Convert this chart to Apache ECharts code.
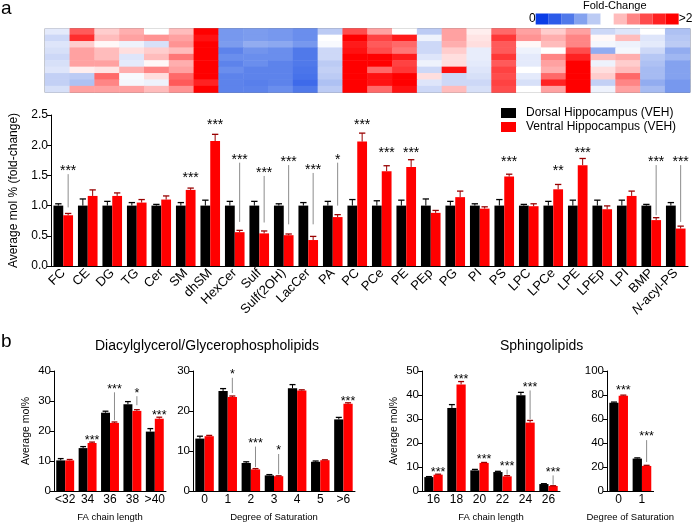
<!DOCTYPE html>
<html><head><meta charset="utf-8">
<script src="https://cdn.jsdelivr.net/npm/echarts@6/dist/echarts.min.js"></script>
<style>html,body{margin:0;padding:0;background:#fff}#c{width:698px;height:524px}</style>
</head><body><div id="c"></div>
<script>
// ---------- DATA ----------
const lipidClasses = ['FC','CE','DG','TG','Cer','SM','dhSM','HexCer','Sulf','Sulf(2OH)','LacCer','PA','PC','PCe','PE','PEp','PG','PI','PS','LPC','LPCe','LPE','LPEp','LPI','BMP','N-acyl-PS'];
const heatmapRowNames = ['1','2','3','4','5','6','7','8','9','10'];
const heatmapRows = [
 [0.92,1.55,1.15,1.25,1.0,1.2,2.2,0.55,0.57,0.55,0.5,0.8,1.6,1.3,1.0,0.8,1.3,1.05,1.5,1.3,1.15,1.3,0.85,0.9,1.0,0.75],
 [0.85,1.75,1.2,1.3,1.35,1.3,1.9,0.55,0.57,0.55,0.5,1.0,2.0,1.65,1.85,0.95,1.3,1.08,1.7,1.35,1.25,1.4,1.02,1.2,0.9,0.78],
 [0.9,1.15,1.02,0.95,0.88,1.35,2.1,0.57,0.65,0.63,0.55,0.98,1.85,1.55,1.5,0.85,1.25,1.1,1.55,1.02,1.2,1.4,0.97,0.95,0.92,0.8],
 [0.88,1.3,1.2,1.1,1.15,1.2,2.2,0.45,0.53,0.5,0.4,0.85,1.9,1.6,1.45,0.85,1.15,0.93,1.55,0.95,1.0,1.6,0.65,0.97,0.85,0.65],
 [0.85,1.3,1.2,0.9,1.2,1.45,2.2,0.5,0.5,0.5,0.4,0.85,2.1,2.0,1.85,0.9,1.1,0.93,1.7,0.92,1.4,1.8,1.2,1.25,0.78,0.7],
 [0.88,1.3,1.3,0.92,1.02,1.25,2.2,0.45,0.5,0.45,0.4,0.8,2.2,2.0,1.65,0.95,1.1,0.92,1.55,0.92,1.3,2.1,0.95,1.15,0.75,0.6],
 [0.9,1.05,1.08,1.25,1.4,1.3,2.2,0.5,0.45,0.45,0.37,0.82,2.2,1.5,1.7,0.85,1.9,0.9,1.65,1.0,1.25,2.1,1.1,1.2,0.72,0.6],
 [0.82,0.8,1.5,0.98,1.1,1.5,2.1,0.45,0.45,0.45,0.35,0.8,2.2,1.9,2.0,1.1,0.85,0.88,1.6,0.92,1.5,2.0,1.15,1.5,0.72,0.6],
 [0.82,0.75,1.4,0.97,0.95,1.55,1.8,0.45,0.43,0.45,0.3,0.75,2.2,1.9,2.0,0.9,0.85,0.85,1.65,0.88,1.8,2.1,0.82,1.4,0.65,0.55],
 [0.88,1.3,1.3,1.3,1.2,1.35,2.3,0.45,0.45,0.5,0.4,0.8,2.2,1.5,1.9,0.85,1.2,0.88,1.6,1.0,1.3,2.1,0.95,1.3,0.72,0.55]
];
const foldColors = ['#0a3de6','#2c5be9','#5079ea','#84a2ef','#bccbf4','#ffffff','#ffbcbc','#ff8585','#ff4c4c','#ff2222','#ff0000'];

const dorsalFold    = [1,1,1,1,1,1,1,1,1,1,1,1,1,1,1,1,1,1,1,1,1,1,1,1,1,1];
const dorsalFoldErr = [0.03,0.11,0.07,0.05,0.02,0.05,0.09,0.07,0.07,0.03,0.05,0.07,0.10,0.08,0.09,0.11,0.07,0.03,0.10,0.02,0.07,0.09,0.09,0.09,0.02,0.05];
const ventralFold    = [0.84,1.16,1.16,1.05,1.10,1.26,2.07,0.56,0.54,0.51,0.43,0.81,2.06,1.57,1.64,0.88,1.14,0.95,1.48,0.99,1.27,1.67,0.94,1.16,0.76,0.62];
const ventralFoldErr = [0.03,0.10,0.05,0.05,0.06,0.03,0.11,0.03,0.04,0.02,0.06,0.04,0.14,0.09,0.12,0.04,0.10,0.03,0.04,0.04,0.08,0.11,0.055,0.08,0.04,0.04];
// [category, stars, star level, line down to]
const sigFold = [
 ['FC','***',1.62,0.97],['SM','***',1.50,null],['dhSM','***',2.38,null],['HexCer','***',1.81,0.73],
 ['Sulf','***',1.59,0.72],['Sulf(2OH)','***',1.77,0.69],['LacCer','***',1.64,0.69],['PA','*',1.81,1.0],
 ['PC','***',2.38,null],['PCe','***',1.93,null],['PE','***',1.93,null],['PS','***',1.77,null],
 ['LPCe','**',1.63,null],['LPE','***',1.93,null],['BMP','***',1.77,0.84],['N-acyl-PS','***',1.77,0.73]
];

const gplChain = ['<32','34','36','38','>40'];
const gplChainDorsal = [10.2,14.3,26.1,28.9,19.8];
const gplChainDorsalErr = [0.6,0.5,0.5,0.9,1.0];
const gplChainVentral = [10.2,16.0,22.7,26.7,24.1];
const gplChainVentralErr = [0.3,0.3,0.3,0.4,0.5];
const sigGplChain = [['34','***',17.7,null],['36','***',34.9,23.6],['38','*',33.6,28.6],['>40','***',26.0,null]];

const gplSat = ['0','1','2','3','4','5','>6'];
const gplSatDorsal = [13.1,25.0,7.0,3.9,25.7,7.3,17.9];
const gplSatDorsalErr = [0.6,0.6,0.3,0.2,0.9,0.2,0.5];
const gplSatVentral = [13.7,23.5,5.4,3.7,25.1,7.7,21.8];
const gplSatVentralErr = [0.2,0.25,0.2,0.1,0.2,0.1,0.25];
const sigGplSat = [['1','*',29.8,24.5],['2','***',12.6,6.0],['3','*',10.75,4.2],['>6','***',23.2,null]];

const spChain = ['16','18','20','22','24','26'];
const spChainDorsal = [5.8,34.6,8.6,7.9,39.9,2.9];
const spChainDorsalErr = [0.2,1.4,0.4,0.3,1.2,0.15];
const spChainVentral = [6.8,44.4,11.7,6.1,28.5,2.1];
const spChainVentralErr = [0.2,1.2,0.2,0.3,0.9,0.1];
const sigSpChain = [['16','***',8.9,null],['18','***',47.6,null],['20','***',14.2,null],['22','***',11.4,6.8],['24','***',44.4,29.9],['26','***',9.0,2.6]];

const spSat = ['0','1'];
const spSatDorsal = [73.5,27.0];
const spSatDorsalErr = [0.6,0.6];
const spSatVentral = [79.4,20.9];
const spSatVentralErr = [0.5,0.5];
const sigSpSat = [['0','***',86.4,null],['1','***',47.4,24.2]];

// ---------- CHART ----------
const FONT = '"Liberation Sans", Arial, Helvetica, sans-serif';
const BLACK = '#000000', RED = '#ff0000', RED_ERR = '#990000';
const chart = echarts.init(document.getElementById('c'));

const heatData = [];
heatmapRows.forEach((row, r) => row.forEach((v, c) => heatData.push([c, r, v])));

function errSeries(ax, values, errs, side, color) {
  return {
    type: 'custom', xAxisIndex: ax, yAxisIndex: ax, silent: true, z: 4,
    encode: {x: 0, y: 1},
    data: values.map((v, i) => [i, v, errs[i]]),
    renderItem: function (params, api) {
      const i = api.value(0), v = api.value(1), e = api.value(2);
      const band = api.size([1, 0])[0];
      const base = api.coord([i, v]);
      const x = base[0] + side * band * 0.2;
      const yt = api.coord([i, v + e])[1];
      const hw = band * 0.13;
      return {type: 'group', children: [
        {type: 'line', shape: {x1: x, y1: base[1], x2: x, y2: yt}, style: {stroke: color, lineWidth: 1}},
        {type: 'line', shape: {x1: x - hw, y1: yt, x2: x + hw, y2: yt}, style: {stroke: color, lineWidth: 1.3}}
      ]};
    }
  };
}
function sigSeries(ax, cats, sig, fs) {
  return {
    type: 'custom', xAxisIndex: ax, yAxisIndex: ax, silent: true, z: 5,
    encode: {x: 0, y: 1},
    data: sig.map(s => [cats.indexOf(s[0]), s[2]]),
    renderItem: function (params, api) {
      const s = sig[params.dataIndex];
      const i = api.value(0);
      const band = api.size([1, 0])[0];
      const p = api.coord([i, s[2]]);
      const x = p[0] + band * 0.2;
      const ch = [{type: 'text', style: {text: s[1], x: x, y: p[1] + fs * 0.23, fill: '#000', fontSize: fs, fontFamily: FONT, align: 'center', verticalAlign: 'middle'}}];
      if (s[3] != null) {
        const yb = api.coord([i, s[3]])[1];
        ch.push({type: 'line', shape: {x1: x, y1: p[1] + 6, x2: x, y2: yb}, style: {stroke: '#8c8c8c', lineWidth: 1}});
      }
      return {type: 'group', children: ch};
    }
  };
}
function barPair(ax, d, dE, v, vE, sig, cats, fs) {
  return [
    {type: 'bar', name: 'Dorsal Hippocampus (VEH)', xAxisIndex: ax, yAxisIndex: ax, data: d, barGap: '0%', barCategoryGap: '20%', itemStyle: {color: BLACK}, silent: true},
    {type: 'bar', name: 'Ventral Hippocampus (VEH)', xAxisIndex: ax, yAxisIndex: ax, data: v, barGap: '0%', barCategoryGap: '20%', itemStyle: {color: RED}, silent: true},
    errSeries(ax, d, dE, -1, BLACK),
    errSeries(ax, v, vE, 1, RED_ERR),
    sigSeries(ax, cats, sig, fs)
  ];
}
function catAxis(g, cats, fs, extra) {
  return Object.assign({
    type: 'category', gridIndex: g, data: cats,
    axisLine: {lineStyle: {color: '#000', width: 1}},
    axisTick: {alignWithLabel: true, length: 4, lineStyle: {color: '#000'}},
    axisLabel: {color: '#000', fontSize: fs, interval: 0, margin: 3, fontFamily: FONT}
  }, extra || {});
}
function valAxis(g, max, interval, fs, fmt, extra) {
  return Object.assign({
    type: 'value', gridIndex: g, min: 0, max: max, interval: interval,
    axisLine: {show: true, lineStyle: {color: '#000', width: 1}},
    axisTick: {show: true, length: 4, lineStyle: {color: '#000'}},
    splitLine: {show: false},
    axisLabel: {color: '#000', fontSize: fs, margin: 3, fontFamily: FONT, formatter: fmt}
  }, extra || {});
}
const nameStyle = (fs) => ({color: '#000', fontSize: fs, fontFamily: FONT});

const option = {
  animation: false,
  backgroundColor: '#fff',
  textStyle: {fontFamily: FONT},
  title: [
    {text: 'a', left: 1, top: -1, padding: 0, textStyle: {fontSize: 19, fontWeight: 'normal', color: '#000', fontFamily: FONT}},
    {text: 'b', left: 1, top: 332, padding: 0, textStyle: {fontSize: 19, fontWeight: 'normal', color: '#000', fontFamily: FONT}},
    {text: 'Fold-Change', left: 583, top: 0, padding: 0, textStyle: {fontSize: 11, fontWeight: 'normal', color: '#000', fontFamily: FONT}},
    {text: 'Diacylglycerol/Glycerophospholipids', left: 95, top: 339, padding: 0, textStyle: {fontSize: 14, fontWeight: 'normal', color: '#000', fontFamily: FONT}},
    {text: 'Sphingolipids', left: 500, top: 339, padding: 0, textStyle: {fontSize: 14, fontWeight: 'normal', color: '#000', fontFamily: FONT}}
  ],
  legend: {
    orient: 'vertical', left: 501, top: 107, padding: 0, itemGap: 2,
    itemWidth: 15, itemHeight: 10, icon: 'rect',
    selectedMode: false,
    textStyle: {fontSize: 12, color: '#000', fontFamily: FONT, padding: [0, 0, 0, 5]},
    data: [{name: 'Dorsal Hippocampus (VEH)', itemStyle: {color: BLACK}}, {name: 'Ventral Hippocampus (VEH)', itemStyle: {color: RED}}]
  },
  visualMap: [
    {type: 'continuous', show: false, seriesIndex: 0, min: 0, max: 2, inRange: {color: foldColors}},
    {type: 'piecewise', show: true, seriesIndex: 1, orient: 'horizontal', left: 529, top: 13, padding: 0,
     itemWidth: 13, itemHeight: 11, itemGap: 0, itemSymbol: 'rect', text: ['>2', '0'], textGap: 4,
     selectedMode: false, hoverLink: false,
     textStyle: {fontSize: 12, color: '#000', fontFamily: FONT},
     pieces: foldColors.map((c, k) => ({min: k * 2 / 11, max: (k + 1) * 2 / 11, color: c}))}
  ],
  grid: [
    {left: 45, top: 28.5, width: 645, height: 64, show: true, borderColor: '#808080', borderWidth: 1, backgroundColor: 'transparent'},
    {left: 44, top: 115, width: 644, height: 151},
    {left: 54, top: 371, width: 112, height: 120},
    {left: 193, top: 371, width: 162, height: 120},
    {left: 422, top: 371, width: 138, height: 120},
    {left: 607, top: 371, width: 46.6, height: 120}
  ],
  xAxis: [
    {type: 'category', gridIndex: 0, data: lipidClasses, show: false},
    catAxis(1, lipidClasses, 13, {
      axisLabel: {color: '#000', fontSize: 13, interval: 0, rotate: 45, margin: 5, fontFamily: FONT,
        formatter: v => v === 'N-acyl-PS' ? '{i|N}-acyl-PS' : v,
        rich: {i: {fontStyle: 'italic', fontSize: 13, fontFamily: FONT, color: '#000'}}}
    }),
    catAxis(2, gplChain, 12, {name: 'FA chain length', nameLocation: 'middle', nameGap: 21, nameTextStyle: nameStyle(9.5)}),
    catAxis(3, gplSat, 12, {name: 'Degree of Saturation', nameLocation: 'middle', nameGap: 21, nameTextStyle: nameStyle(9.5)}),
    catAxis(4, spChain, 12, {name: 'FA chain length', nameLocation: 'middle', nameGap: 21, nameTextStyle: nameStyle(9.5)}),
    catAxis(5, spSat, 12, {name: 'Degree of Saturation', nameLocation: 'middle', nameGap: 21, nameTextStyle: nameStyle(9.5)})
  ],
  yAxis: [
    {type: 'category', gridIndex: 0, data: heatmapRowNames, inverse: true, show: false},
    valAxis(1, 2.5, 0.5, 12, v => v.toFixed(1), {name: 'Average mol % (fold-change)', nameLocation: 'middle', nameGap: 31, nameTextStyle: nameStyle(12)}),
    valAxis(2, 40, 10, 11.5, null, {name: 'Average mol%', nameLocation: 'middle', nameGap: 22, nameTextStyle: nameStyle(10.5)}),
    valAxis(3, 30, 10, 11.5, null),
    valAxis(4, 50, 10, 11.5, null, {name: 'Average mol%', nameLocation: 'middle', nameGap: 22, nameTextStyle: nameStyle(10.5)}),
    valAxis(5, 100, 20, 11.5, null)
  ],
  series: [
    {type: 'heatmap', xAxisIndex: 0, yAxisIndex: 0, data: heatData, silent: true, emphasis: {disabled: true}},
    {type: 'heatmap', xAxisIndex: 0, yAxisIndex: 0, data: [], silent: true},
    ...barPair(1, dorsalFold, dorsalFoldErr, ventralFold, ventralFoldErr, sigFold, lipidClasses, 14),
    ...barPair(2, gplChainDorsal, gplChainDorsalErr, gplChainVentral, gplChainVentralErr, sigGplChain, gplChain, 12.5),
    ...barPair(3, gplSatDorsal, gplSatDorsalErr, gplSatVentral, gplSatVentralErr, sigGplSat, gplSat, 12.5),
    ...barPair(4, spChainDorsal, spChainDorsalErr, spChainVentral, spChainVentralErr, sigSpChain, spChain, 12.5),
    ...barPair(5, spSatDorsal, spSatDorsalErr, spSatVentral, spSatVentralErr, sigSpSat, spSat, 12.5)
  ]
};
chart.setOption(option);
</script>
</body></html>
